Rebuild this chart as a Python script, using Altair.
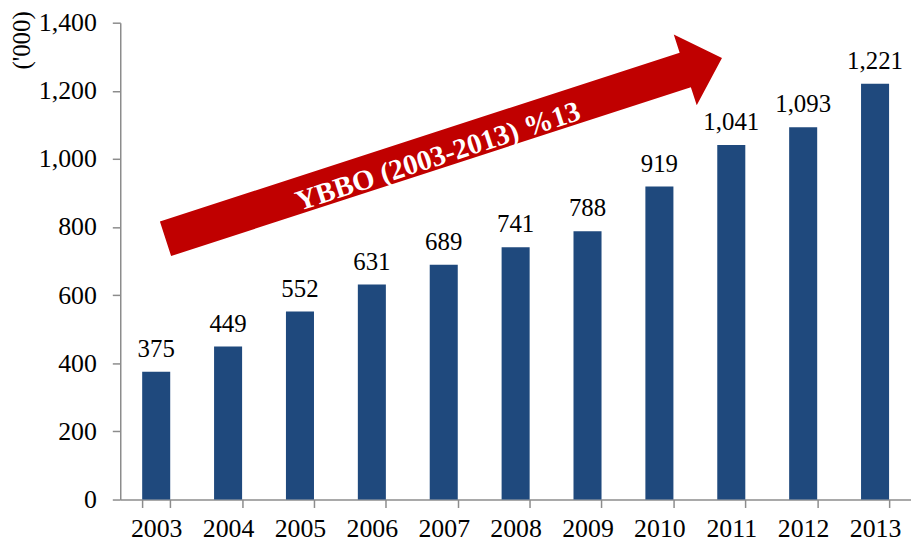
import altair as alt
import pandas as pd

years = ["2003", "2004", "2005", "2006", "2007", "2008", "2009", "2010", "2011", "2012", "2013"]
values = [375, 449, 552, 631, 689, 741, 788, 919, 1041, 1093, 1221]
y_ticks = [0, 200, 400, 600, 800, 1000, 1200, 1400]

arrow_label = "YBBO (2003-2013) %13"
arrow_year = ["2007"]
arrow_value = [1031]

FONT = "Liberation Serif"
BAR = "#1F497D"
RED = "#C00000"
AXIS_GRAY = "#8C8C8C"

df = pd.DataFrame({"year": years, "value": values})
arrow_df = pd.DataFrame({"year": arrow_year, "value": arrow_value, "label": [arrow_label]})

x_scale = alt.Scale(paddingInner=0.61, paddingOuter=0.305)
y_scale = alt.Scale(domain=[0, 1400], nice=False)

x_enc = alt.X("year:N", scale=x_scale, sort=years,
              axis=alt.Axis(title=None, labelAngle=0, tickBand="extent",
                            labelFont=FONT, labelFontSize=26, labelColor="black",
                            labelPadding=8, tickSize=8, domainColor=AXIS_GRAY,
                            tickColor=AXIS_GRAY, domainWidth=1.5, tickWidth=1.5))
y_enc = alt.Y("value:Q", scale=y_scale,
              axis=alt.Axis(values=y_ticks, format=",.0f", title="('000)", grid=False,
                            labelFont=FONT, labelFontSize=26, labelColor="black",
                            labelPadding=16, tickSize=8, domainColor=AXIS_GRAY,
                            tickColor=AXIS_GRAY, domainWidth=1.5, tickWidth=1.5,
                            titleFont=FONT, titleFontSize=25, titleFontWeight="normal",
                            titleColor="black", titleAngle=-90, titleAlign="right",
                            titleBaseline="middle", titleX=-99, titleY=-12))

bars = alt.Chart(df).mark_bar(color=BAR).encode(x=x_enc, y=y_enc)

labels = alt.Chart(df).mark_text(font=FONT, fontSize=25, color="black",
                                 baseline="alphabetic", dy=-15).encode(
    x=alt.X("year:N", sort=years), y="value:Q", text=alt.Text("value:Q", format=",.0f"))

arrow_path = "M -1 -0.062 L 0.868 -0.062 L 0.868 -0.127 L 1 0 L 0.868 0.127 L 0.868 0.062 L -1 0.062 Z"
arrow = alt.Chart(arrow_df).mark_point(shape=arrow_path, filled=True, color=RED,
                                       opacity=1, size=346921, angle=342,
                                       strokeWidth=0).encode(
    x=alt.X("year:N", sort=years), y="value:Q")

arrow_text = alt.Chart(arrow_df).mark_text(font=FONT, fontSize=29, fontWeight="bold",
                                           color="white", angle=342, align="center",
                                           baseline="middle", dx=-8, dy=6).encode(
    x=alt.X("year:N", sort=years), y="value:Q", text="label:N")

chart = alt.layer(bars, labels, arrow, arrow_text).properties(
    width=796, height=480,
    autosize=alt.AutoSizeParams(type="none"),
    padding={"left": 113, "top": 13, "right": 0, "bottom": 47},
).configure_view(stroke=None)

chart.save("out.html", embed_options={"renderer": "svg", "actions": False})
